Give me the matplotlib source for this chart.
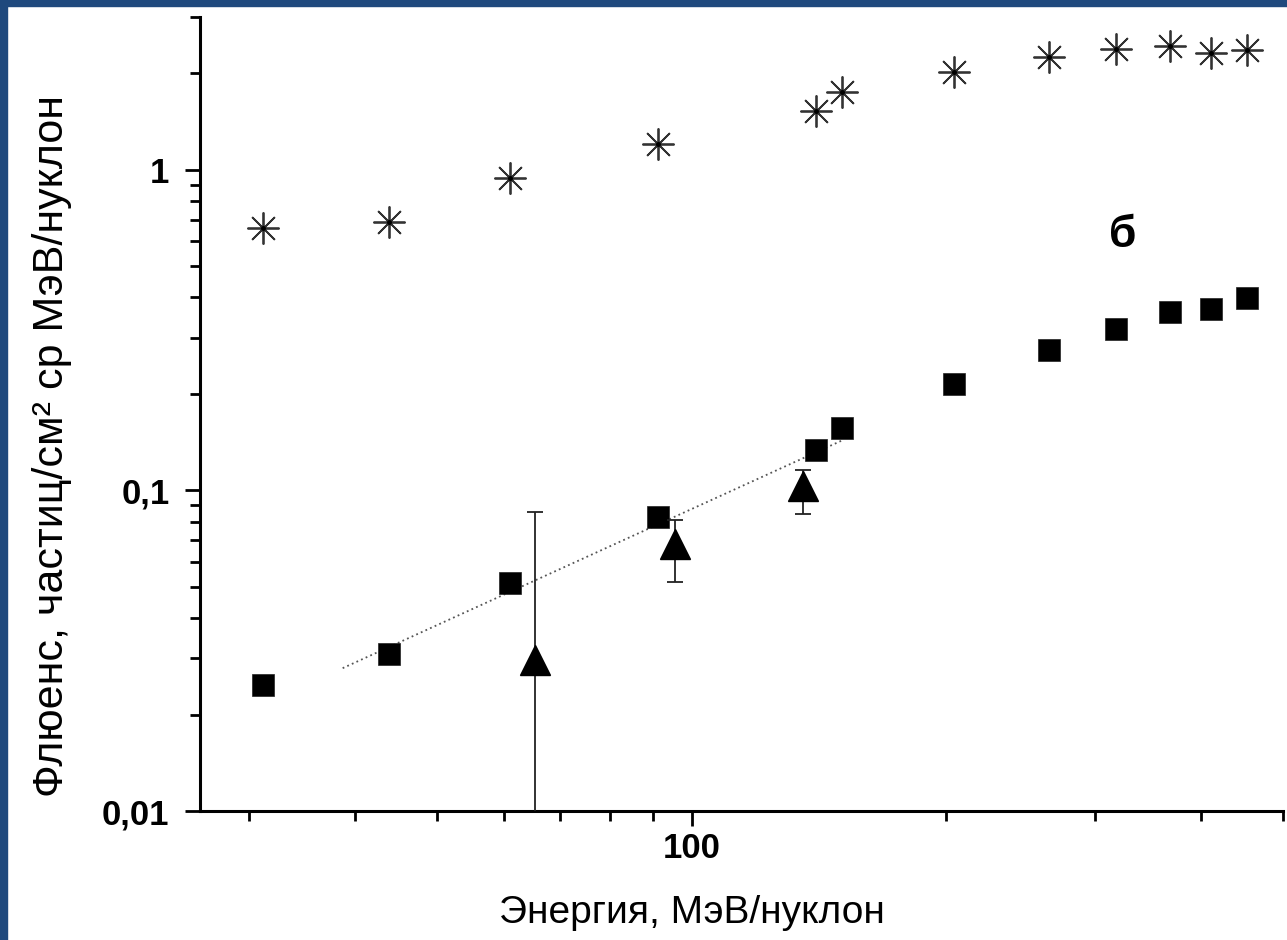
import matplotlib
matplotlib.use("Agg")
import matplotlib.pyplot as plt
import matplotlib.ticker as mticker
from matplotlib.patches import Rectangle

# ---- data ----
energy = [31.2, 43.9, 61.1, 91.2, 140.5, 150.8, 204.4, 264.7, 317.6, 367.8, 411.1, 453.3]
fluence_star = [0.660, 0.689, 0.944, 1.205, 1.527, 1.750, 2.020, 2.249, 2.382, 2.434, 2.315, 2.365]
fluence_square = [0.0247, 0.0308, 0.0513, 0.0824, 0.1342, 0.1571, 0.2155, 0.275, 0.320, 0.361, 0.369, 0.399]

tri_energy = [65.4, 95.5, 135.3]
tri_fluence = [0.0296, 0.0681, 0.1033]
tri_err_low = [0.0204, 0.0164, 0.0191]
tri_err_high = [0.0558, 0.0125, 0.0129]

fit_energy = [38.7, 150.4]
fit_fluence = [0.0279, 0.143]

x_ticks = [100]
x_ticklabels = ["100"]
y_ticks = [0.01, 0.1, 1]
y_ticklabels = ["0,01", "0,1", "1"]

xlabel = "Энергия, МэВ/нуклон"
ylabel = "Флюенс, частиц/см² ср МэВ/нуклон"
panel_label = "б"

# ---- figure ----
W, H = 1287, 940
fig = plt.figure(figsize=(W / 100, H / 100), dpi=100)
fig.patch.set_facecolor("white")

blue = "#1f497d"
fig.patches.append(Rectangle((0, 0), 7 / W, 1, transform=fig.transFigure, color=blue, zorder=10))
fig.patches.append(Rectangle((0, 1 - 6 / H), 1, 6 / H, transform=fig.transFigure, color=blue, zorder=10))

left, right, top, bottom = 200, 1283, 17, 811
ax = fig.add_axes([left / W, (H - bottom) / H, (right - left) / W, (bottom - top) / H])
ax.set_xscale("log")
ax.set_yscale("log")
ax.set_xlim(26.25, 500)
ax.set_ylim(0.01, 3)

for s in ["top", "right"]:
    ax.spines[s].set_visible(False)
for s in ["left", "bottom"]:
    ax.spines[s].set_linewidth(2.2)

font = "Liberation Sans"

# fit line
ax.plot(fit_energy, fit_fluence, linestyle=(0, (1, 1.8)), color="#555555", lw=1.3, zorder=2)

# stars (asterisks)
ax.plot(energy, fluence_star, linestyle="none", marker=(8, 2, 0), markersize=23,
        markeredgewidth=1.3, markeredgecolor="#333333", color="#333333", zorder=3)
ax.plot(energy, fluence_star, linestyle="none", marker="o", markersize=2.5,
        color="black", zorder=4)

# squares
ax.plot(energy, fluence_square, linestyle="none", marker="s", markersize=16.5,
        color="black", markeredgecolor="#222222", markeredgewidth=0.5, zorder=3)

# triangles with error bars
ax.errorbar(tri_energy, tri_fluence, yerr=[tri_err_low, tri_err_high], fmt="^",
            color="black", ecolor="#222222", elinewidth=1.3, capsize=5.5, capthick=1.3,
            markersize=21, zorder=3)

# ticks
ax.set_xticks(x_ticks)
ax.set_xticklabels(x_ticklabels)
ax.xaxis.set_minor_locator(mticker.FixedLocator([30, 40, 50, 60, 70, 80, 90, 200, 300, 400, 500]))
ax.xaxis.set_minor_formatter(mticker.NullFormatter())
ax.set_yticks(y_ticks)
ax.set_yticklabels(y_ticklabels)
ax.yaxis.set_minor_locator(mticker.FixedLocator(
    [0.02, 0.03, 0.04, 0.05, 0.06, 0.07, 0.08, 0.09,
     0.2, 0.3, 0.4, 0.5, 0.6, 0.7, 0.8, 0.9, 2, 3]))
ax.yaxis.set_minor_formatter(mticker.NullFormatter())

ax.tick_params(which="major", direction="out", length=11, width=2.0, labelsize=25)
ax.tick_params(axis="x", which="major", pad=4)
ax.tick_params(axis="y", which="major", pad=11)
ax.tick_params(which="minor", direction="out", length=7, width=2.0)
for lab in ax.get_xticklabels() + ax.get_yticklabels():
    lab.set_fontweight("bold")
    lab.set_fontfamily(font)

# labels
fig.text(692 / W, 1 - 913 / H, xlabel, ha="center", va="center", fontsize=28, family=font)
fig.text(52 / W, 1 - 446 / H, ylabel, ha="center", va="center", rotation=90, fontsize=31, family=font)

ax.text(323, 0.625, panel_label, ha="center", va="center", fontsize=32,
        fontweight="bold", family=font)

fig.savefig("out.png", dpi=100, facecolor="white")
